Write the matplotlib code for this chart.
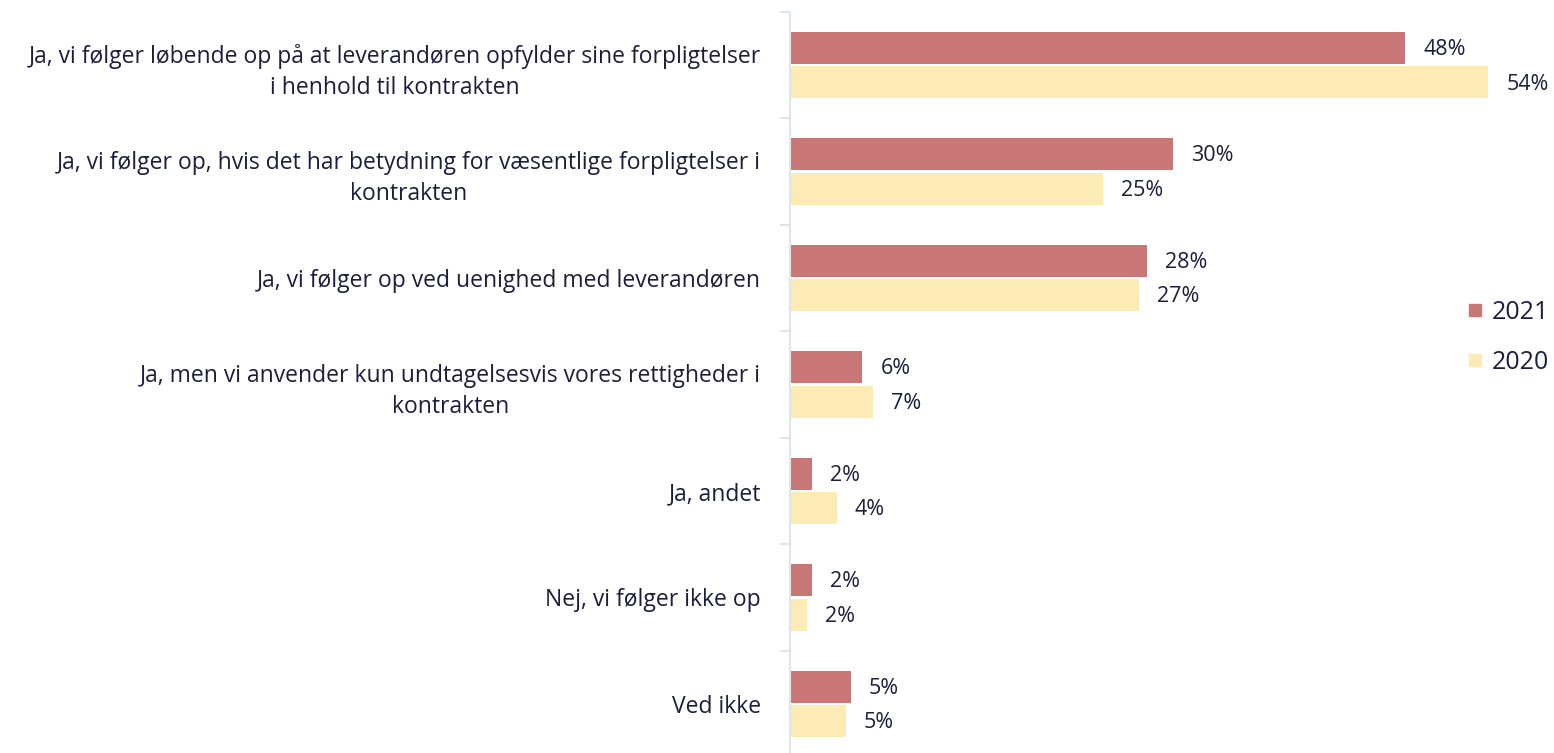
import matplotlib.pyplot as plt
from matplotlib.lines import Line2D

categories = [
    "Ja, vi følger løbende op på at leverandøren opfylder sine forpligtelser\ni henhold til kontrakten",
    "Ja, vi følger op, hvis det har betydning for væsentlige forpligtelser i\nkontrakten",
    "Ja, vi følger op ved uenighed med leverandøren",
    "Ja, men vi anvender kun undtagelsesvis vores rettigheder i\nkontrakten",
    "Ja, andet",
    "Nej, vi følger ikke op",
    "Ved ikke",
]
values_2021 = [47.6, 29.6, 27.6, 5.6, 1.7, 1.7, 4.7]
values_2020 = [54.0, 24.2, 27.0, 6.4, 3.6, 1.3, 4.3]
labels_2021 = ["48%", "30%", "28%", "6%", "2%", "2%", "5%"]
labels_2020 = ["54%", "25%", "27%", "7%", "4%", "2%", "5%"]

c21 = "#C97776"
c20 = "#FCEBB5"
txt = "#1B1F3B"
plt.rcParams['font.family'] = ['Open Sans', 'DejaVu Sans']

W, H = 1554, 753
fig = plt.figure(figsize=(W / 100, H / 100), dpi=100)
ax = fig.add_axes([790 / W, (H - 757) / H, 764 / W, 745 / H])

y = list(range(len(categories)))
off, bh = 0.162, 0.30
ax.barh([i - off for i in y], values_2021, height=bh, color=c21)
ax.barh([i + off for i in y], values_2020, height=bh, color=c20)

for i in y:
    ax.text(values_2021[i] + 1.4, i - off + 0.015, labels_2021[i], va="center", ha="left",
            fontsize=15.5, color=txt)
    ax.text(values_2020[i] + 1.4, i + off + 0.015, labels_2020[i], va="center", ha="left",
            fontsize=15.5, color=txt)

ax.set_xlim(0, 764 / 12.93)
ax.set_ylim(6.5, -0.5)
ax.set_yticks(y)
ax.set_yticklabels(categories, fontsize=16.5, color=txt)
for t in ax.get_yticklabels():
    t.set_multialignment("center")
    t.set_linespacing(1.4)
ax.tick_params(axis="y", which="major", length=0, pad=21)
ax.set_yticks([i - 0.5 for i in range(len(categories) + 1)], minor=True)
ax.tick_params(axis="y", which="minor", length=7, width=1.5, color="#DDE8E4")
ax.set_xticks([])
for s in ["top", "right", "bottom"]:
    ax.spines[s].set_visible(False)
ax.spines["left"].set_color("#DDE8E4")
ax.spines["left"].set_linewidth(1.5)

handles = [Line2D([], [], marker="s", linestyle="", markersize=9, color=c21),
           Line2D([], [], marker="s", linestyle="", markersize=9, color=c20)]
fig.legend(handles, ["2021", "2020"], loc="center left",
           bbox_to_anchor=(1442 / W, 1 - 337 / H), frameon=False,
           fontsize=18, labelcolor=txt, handlelength=0.8, handletextpad=0.3,
           labelspacing=1.0)

fig.savefig("out.png", dpi=100)
